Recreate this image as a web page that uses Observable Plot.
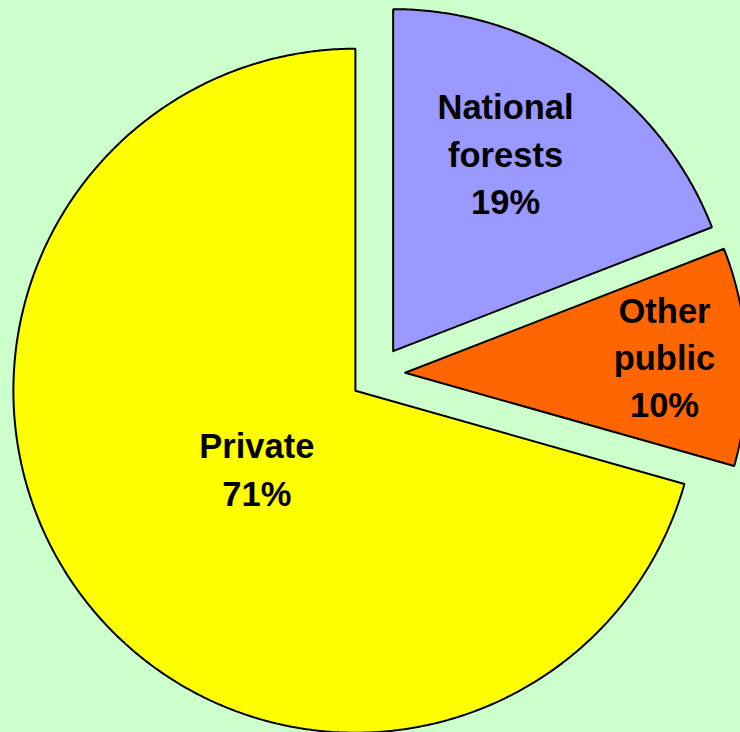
<!DOCTYPE html>
<html>
<head>
<meta charset="utf-8">
<script src="https://cdn.jsdelivr.net/npm/d3@7"></script>
<script src="https://cdn.jsdelivr.net/npm/@observablehq/plot@0.6"></script>
<style>
  html, body { margin: 0; padding: 0; background: #CCFFCC; overflow: hidden; }
  #chart svg { display: block; }
</style>
</head>
<body>
<div id="chart"></div>
<script>
// ---- Data ----
const categories = ["National forests", "Other public", "Private"];
const shares = [19.1, 10.3, 70.6];          // slice sizes as drawn
const shareLabels = ["19%", "10%", "71%"];  // printed labels
const labelLines = [["National", "forests"], ["Other", "public"], ["Private"]];
const colors = ["#9999FF", "#FF6600", "#FFFF00"];

// ---- Layout ----
const W = 740, H = 732;
const cx = 377, cy = 373.5, R = 342, explode = 27.7;
const labelRadius = [0.67, 0.76, 0.364];
const labelAngleShift = [-5, -1.2, -0.6]; // degrees

const arcs = d3.pie().sort(null).value(d => d)(shares);

const polyPoints = [];
const labels = [];
arcs.forEach((a, i) => {
  const mid = (a.startAngle + a.endAngle) / 2;
  const ox = cx + explode * Math.sin(mid);
  const oy = cy - explode * Math.cos(mid);
  const name = categories[i];
  polyPoints.push({name, x: ox, y: oy});
  const steps = Math.max(2, Math.ceil((a.endAngle - a.startAngle) / (Math.PI / 360)));
  for (let k = 0; k <= steps; k++) {
    const t = a.startAngle + (a.endAngle - a.startAngle) * k / steps;
    polyPoints.push({name, x: ox + R * Math.sin(t), y: oy - R * Math.cos(t)});
  }
  polyPoints.push({name, x: ox, y: oy});
  const la = mid + labelAngleShift[i] * Math.PI / 180;
  const lr = labelRadius[i] * R;
  labels.push({
    name,
    x: ox + lr * Math.sin(la),
    y: oy - lr * Math.cos(la),
    text: [...labelLines[i], shareLabels[i]].join("\n")
  });
});

const chart = Plot.plot({
  width: W,
  height: H,
  margin: 0,
  style: {background: "#CCFFCC", overflow: "hidden"},
  x: {domain: [0, W], range: [0, W], axis: null},
  y: {domain: [0, H], range: [0, H], axis: null},
  color: {domain: categories, range: colors},
  marks: [
    Plot.line(polyPoints, {
      x: "x", y: "y", z: "name", fill: "name",
      stroke: "black", strokeWidth: 2, strokeLinejoin: "miter", curve: "linear"
    }),
    Plot.text(labels, {
      x: "x", y: "y", text: "text",
      fontSize: 34.5, fontWeight: "bold",
      fontFamily: "'Liberation Sans', Arial, sans-serif",
      lineHeight: 1.37, lineAnchor: "middle", textAnchor: "middle",
      fill: "black"
    })
  ]
});
document.getElementById("chart").appendChild(chart);
</script>
</body>
</html>
